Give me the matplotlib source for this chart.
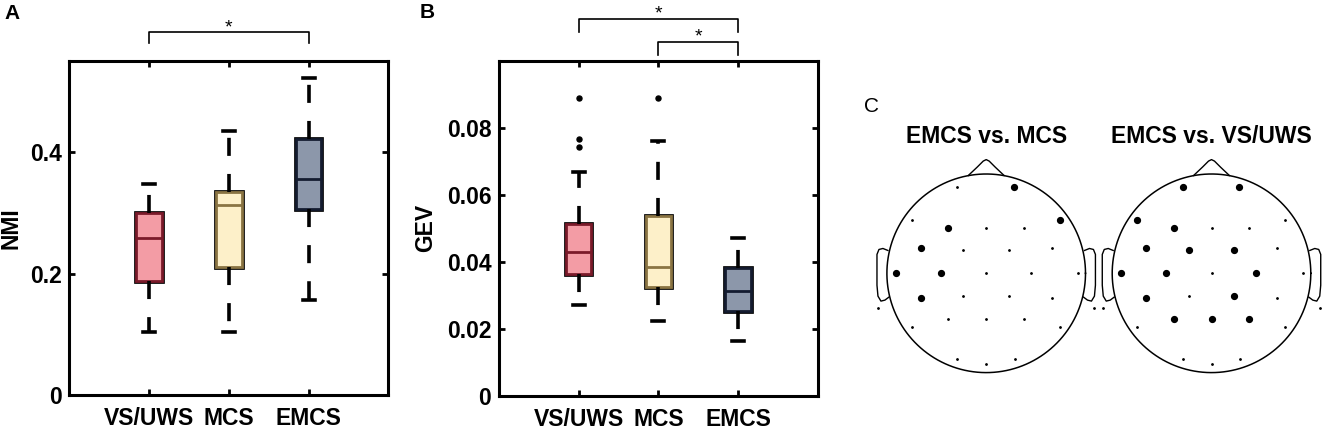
import numpy as np
import matplotlib
matplotlib.use('Agg')
import matplotlib.pyplot as plt
from matplotlib import patheffects as pe
from matplotlib.transforms import blended_transform_factory

plt.rcParams['font.family'] = ['Liberation Sans', 'DejaVu Sans']
plt.rcParams['font.weight'] = 'bold'

groups = ['VS/UWS', 'MCS', 'EMCS']
fill_colors = ['#f39ca5', '#fdf0c9', '#8c97aa']
edge_colors = ['#7a1a2a', '#8a7443', '#141c30']

# panel A: NMI
nmi_q1 = [0.187, 0.210, 0.307]
nmi_med = [0.259, 0.313, 0.356]
nmi_q3 = [0.300, 0.334, 0.422]
nmi_lo = [0.104, 0.104, 0.156]
nmi_hi = [0.348, 0.435, 0.522]
nmi_out = [[], [], []]
nmi_ticks = [0, 0.2, 0.4]
nmi_ticklabels = ['0', '0.2', '0.4']

# panel B: GEV
gev_q1 = [0.0365, 0.0324, 0.0254]
gev_med = [0.0429, 0.0386, 0.0313]
gev_q3 = [0.0513, 0.0536, 0.0382]
gev_lo = [0.0271, 0.0223, 0.0164]
gev_hi = [0.0667, 0.0761, 0.0471]
gev_out = [[0.0744, 0.0767, 0.0889], [0.0890], []]
gev_ticks = [0, 0.02, 0.04, 0.06, 0.08]
gev_ticklabels = ['0', '0.02', '0.04', '0.06', '0.08']

# panel C: electrode layout (unit head radius)
elec_names = ['Fp1', 'Fp2', 'F7', 'F3', 'Fz', 'F4', 'F8', 'FC5', 'FC1', 'FC2', 'FC6',
              'T7', 'C3', 'Cz', 'C4', 'T8', 'TP9', 'CP5', 'CP1', 'CP2', 'CP6', 'TP10',
              'P7', 'P3', 'Pz', 'P4', 'P8', 'O1', 'Oz', 'O2']
elec_x = [-0.29, 0.28, -0.75, -0.38, 0.0, 0.38, 0.74, -0.66, -0.23, 0.23, 0.66,
          -0.91, -0.46, 0.0, 0.45, 0.92, -1.09, -0.66, -0.23, 0.23, 0.66, 1.09,
          -0.75, -0.38, 0.0, 0.38, 0.74, -0.29, 0.0, 0.29]
elec_y = [0.87, 0.87, 0.54, 0.46, 0.46, 0.46, 0.54, 0.25, 0.23, 0.23, 0.25,
          0.0, 0.0, 0.0, 0.0, 0.0, -0.35, -0.25, -0.23, -0.23, -0.25, -0.35,
          -0.54, -0.46, -0.46, -0.46, -0.54, -0.86, -0.91, -0.86]
sig_vs_mcs = ['Fp2', 'F8', 'F3', 'FC5', 'T7', 'C3', 'CP5']
sig_vs_vs = ['Fp1', 'Fp2', 'F7', 'F3', 'FC5', 'FC1', 'FC2', 'T7', 'C3', 'C4',
             'CP5', 'CP2', 'P3', 'Pz', 'P4']
topo_titles = ['EMCS vs. MCS', 'EMCS vs. VS/UWS']

nose_x = [-0.18, -0.09, -0.03, 0.0, 0.03, 0.09, 0.18]
nose_y = [0.985, 1.07, 1.13, 1.145, 1.13, 1.07, 0.985]
ear_x = [0.99, 1.04, 1.08, 1.10, 1.10, 1.09, 1.06, 1.02, 0.98]
ear_y = [0.23, 0.25, 0.24, 0.19, -0.12, -0.23, -0.28, -0.27, -0.24]

FS = 16.5

W, H = 1325, 433
fig = plt.figure(figsize=(W / 100, H / 100), dpi=100)


def px_axes(left, top, right, bottom):
    return fig.add_axes([left / W, 1 - bottom / H, (right - left) / W, (bottom - top) / H])


def draw_boxes(ax, q1, med, q3, lo, hi, out):
    stats = [dict(med=m, q1=a, q3=b, whislo=l, whishi=h, fliers=f)
             for a, m, b, l, h, f in zip(q1, med, q3, lo, hi, out)]
    bp = ax.bxp(stats, positions=[1, 2, 3], widths=0.32, capwidths=0.15, patch_artist=True,
                boxprops=dict(linewidth=2.0),
                whiskerprops=dict(color='black', linewidth=2.6, linestyle=(0, (5, 5))),
                capprops=dict(color='black', linewidth=2.6),
                medianprops=dict(linewidth=2.0),
                flierprops=dict(marker='o', markersize=3.6, markerfacecolor='black',
                                markeredgecolor='black'))
    for box, md, fc, ec in zip(bp['boxes'], bp['medians'], fill_colors, edge_colors):
        box.set_facecolor(fc)
        box.set_edgecolor(ec)
        box.set_path_effects([pe.Stroke(linewidth=3.4, foreground='black'), pe.Normal()])
        md.set_color(ec)
    return bp


def style_axes(ax, ticks, ticklabels, ylim, ylabel, label_x):
    ax.set_xlim(0, 4)
    ax.set_ylim(*ylim)
    ax.set_xticks([1, 2, 3], groups)
    ax.set_yticks(ticks, ticklabels)
    ax.tick_params(direction='in', length=4, width=2, top=True, right=True, labelsize=FS)
    ax.tick_params(axis='x', pad=8.5)
    ax.tick_params(axis='y', pad=5.5)
    for s in ax.spines.values():
        s.set_linewidth(2.2)
    ax.set_ylabel(ylabel, fontsize=FS, fontweight='bold')
    ax.yaxis.set_label_coords(label_x, 0.5)


def bracket(ax, x0, x1, y_bar, y_leg, y_star):
    tr = blended_transform_factory(ax.transData, ax.transAxes)
    ax.plot([x0, x0, x1, x1], [y_leg, y_bar, y_bar, y_leg], color='black', lw=1.2,
            transform=tr, clip_on=False)
    ax.text((x0 + x1) / 2, y_star, '*', transform=tr, ha='center', va='baseline',
            fontsize=14, fontweight='normal')


# A
ax_a = px_axes(69.3, 61, 388.3, 395)
draw_boxes(ax_a, nmi_q1, nmi_med, nmi_q3, nmi_lo, nmi_hi, nmi_out)
style_axes(ax_a, nmi_ticks, nmi_ticklabels, (0, 0.55), 'NMI', -0.148)
bracket(ax_a, 1, 3, 1.0877, 1.053, 1.086)

# B
ax_b = px_axes(499, 61, 817.7, 395.7)
draw_boxes(ax_b, gev_q1, gev_med, gev_q3, gev_lo, gev_hi, gev_out)
style_axes(ax_b, gev_ticks, gev_ticklabels, (0, 0.1), 'GEV', -0.195)
bracket(ax_b, 1, 3, 1.1246, 1.0875, 1.1285)
bracket(ax_b, 2, 3, 1.0559, 1.018, 1.059)

# C: head maps
r = 99.3
cy = 273.3
theta = np.linspace(0, 2 * np.pi, 300)
for cx, title, sig in zip([986.2, 1211.5], topo_titles, [sig_vs_mcs, sig_vs_vs]):
    ax = px_axes(cx - 1.15 * r, cy - 1.6 * r, cx + 1.15 * r, cy + 1.2 * r)
    ax.set_xlim(-1.15, 1.15)
    ax.set_ylim(-1.2, 1.6)
    ax.axis('off')
    ax.plot(np.cos(theta), np.sin(theta), color='black', lw=1.1)
    ax.plot(nose_x, nose_y, color='black', lw=1.0)
    ax.plot(ear_x, ear_y, color='black', lw=1.0)
    ax.plot([-v for v in ear_x], ear_y, color='black', lw=1.0)
    for name, x, y in zip(elec_names, elec_x, elec_y):
        if name in sig:
            ax.plot(x, y, 'o', color='black', markersize=4.2, clip_on=False)
        else:
            ax.plot(x, y, 'o', color='black', markersize=1.0, clip_on=False)
    ax.text(0, 1.313, title, ha='center', va='baseline', fontsize=FS, fontweight='bold')

fig.text(12.5 / W, 1 - 19.3 / H, 'A', fontsize=15, fontweight='bold', ha='center', va='baseline')
fig.text(427 / W, 1 - 18 / H, 'B', fontsize=15, fontweight='bold', ha='center', va='baseline')
fig.text(871 / W, 1 - 112 / H, 'C', fontsize=15, fontweight='normal', ha='center', va='baseline')

fig.savefig('out.png', dpi=100)
